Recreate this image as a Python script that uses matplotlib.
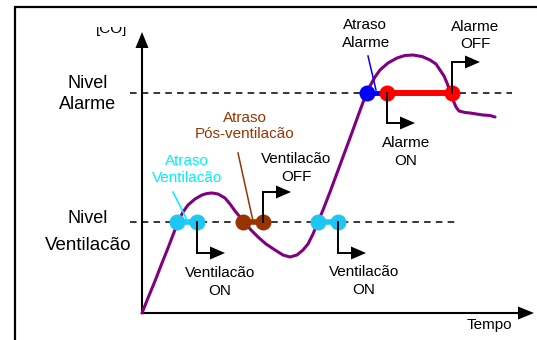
import matplotlib
matplotlib.use('Agg')
import matplotlib.pyplot as plt
from matplotlib.patches import Polygon, Rectangle

# ---------------- data (time, [CO]) in chart units ----------------
curve_t = [0, 6, 13, 20, 26, 31, 36, 41, 46, 53, 60, 65, 70, 76, 83, 88, 93, 98,
           103, 109, 116, 124, 133, 141, 148, 155, 161, 166, 171, 176, 181, 188,
           198, 208, 216, 223, 228, 233, 238, 246, 255, 263, 271, 280, 288, 294,
           298, 302, 305, 308, 311, 314, 317, 323, 328, 341, 348, 353]
curve_co = [0, 15, 32, 50, 65, 78, 91, 101, 108, 114, 118, 119.5, 120, 119, 115,
            109, 102, 96, 90, 83, 76, 69, 63, 58, 56, 58, 63, 69, 79, 91, 103, 121,
            148, 175, 197, 216, 227, 236, 243, 250, 255, 257.5, 258, 256.5, 253,
            249, 243, 237, 230, 222, 213, 206, 202, 200.5, 200, 198, 197.5, 196]

level_alarm = 220
level_vent = 91

vent_delay_start = [35, 176]     # cyan: start of ventilation delay
vent_on = [55, 196]              # cyan: ventilation ON
post_vent_start = 101            # brown: start of post-ventilation delay
vent_off = 121                   # brown: ventilation OFF
alarm_delay_start = 225          # blue
alarm_on = 245                   # red
alarm_off = 310                  # red

# ---------------- figure ----------------
W, H = 537, 340
OX, OY = 142, 313   # pixel position of chart origin
fig = plt.figure(figsize=(W / 100, H / 100), dpi=100)
ax = fig.add_axes([0, 0, 1, 1])
ax.set_xlim(-OX, W - OX)
ax.set_ylim(OY - H, OY)
ax.axis('off')

FONT = 'Liberation Sans'
PURPLE = '#800080'
CYAN_DOT = '#1EC6F4'
CYAN_TXT = '#00EEFF'
BROWN = '#993300'
BLUE = '#0000FF'
RED = '#FF0000'


def X(px):
    return px - OX


def Y(py):
    return OY - py


def txt(px, py, s, size=11, color='black', **kw):
    return ax.text(X(px), Y(py), s, fontsize=size, color=color, family=FONT,
                   ha='center', va='baseline', **kw)


# outer frame (cut off at right/bottom)
ax.plot([X(15), X(15), X(540)], [Y(345), Y(7), Y(7)], color='black', lw=1.6,
        clip_on=False, solid_joinstyle='miter')

# chart axes with arrow heads
ax.plot([0, 0], [0, Y(48)], color='black', lw=1.5)
ax.add_patch(Polygon([[X(135.5), Y(48)], [X(148.5), Y(48)], [X(142), Y(32)]],
                     closed=True, color='black', lw=0))
ax.plot([0, X(518)], [0, 0], color='black', lw=1.5)
ax.add_patch(Polygon([[X(518), Y(306.5)], [X(518), Y(319.5)], [X(534), Y(313)]],
                     closed=True, color='black', lw=0))

# level lines
dash = (0, (4.3, 3.4))
ax.plot([X(130), X(512)], [level_alarm, level_alarm], color='black', lw=1.1,
        linestyle=dash, zorder=1)
ax.plot([X(130), X(458)], [level_vent, level_vent], color='black', lw=1.1,
        linestyle=dash, zorder=1)

# [CO] curve
ax.plot(curve_t, curve_co, color=PURPLE, lw=2.2, zorder=2,
        solid_joinstyle='round', solid_capstyle='round')

# event markers
ms = 11.5
for a, b in zip(vent_delay_start, vent_on):
    ax.plot([a, b], [level_vent, level_vent], color=CYAN_DOT, lw=4, zorder=3)
    ax.plot([a, b], [level_vent, level_vent], 'o', color=CYAN_DOT, ms=ms,
            mew=0, zorder=4)
ax.plot([post_vent_start, vent_off], [level_vent, level_vent], color=BROWN,
        lw=4, zorder=3)
ax.plot([post_vent_start, vent_off], [level_vent, level_vent], 'o', color=BROWN,
        ms=ms, mew=0, zorder=4)
ax.plot([alarm_delay_start, alarm_on], [level_alarm, level_alarm], color=BLUE,
        lw=3.5, zorder=3)
ax.plot([alarm_on, alarm_off], [level_alarm, level_alarm], color=RED, lw=4.3,
        zorder=3)
ax.plot([alarm_delay_start], [level_alarm], 'o', color=BLUE, ms=ms, mew=0,
        zorder=4)
ax.plot([alarm_on, alarm_off], [level_alarm, level_alarm], 'o', color=RED,
        ms=ms, mew=0, zorder=4)

# pointer lines to delay labels
ax.plot([X(173), X(188)], [Y(192), Y(222)], color=CYAN_TXT, lw=1.1, zorder=5)
ax.plot([X(238), X(253)], [Y(153), Y(221)], color=BROWN, lw=1.1, zorder=5)
ax.plot([X(368), X(376)], [Y(56), Y(90)], color=BLUE, lw=1.1, zorder=5)


# step arrows (ON goes down, OFF goes up)
def step(t, level, dy):
    y2 = level + dy
    ax.plot([t, t, t + 14], [level, y2, y2], color='black', lw=1.4, zorder=6,
            solid_joinstyle='miter')
    ax.add_patch(Polygon([[t + 13, y2 - 6.5], [t + 13, y2 + 6.5], [t + 28, y2]],
                         closed=True, color='black', lw=0, zorder=6))


for t in vent_on:
    step(t, level_vent, -31)
step(vent_off, level_vent, 30)
step(alarm_on, level_alarm, -30)
step(alarm_off, level_alarm, 31)

# ---------------- texts ----------------
co = txt(112, 33, '[CO]', size=11)
clip = Rectangle((X(80), Y(40)), 60, 13, transform=ax.transData,
                 facecolor='none', edgecolor='none')
ax.add_patch(clip)
co.set_clip_on(True)
co.set_clip_path(clip)

txt(88, 88, 'Nivel', size=13)
txt(88, 109, 'Alarme', size=13)
txt(88, 223, 'Nivel', size=13)
txt(88, 250, 'Ventilacão', size=13.5)

txt(187, 165, 'Atraso', color=CYAN_TXT)
txt(187, 182, 'Ventilacão', color=CYAN_TXT)

txt(245, 122, 'Atraso', color=BROWN)
txt(245, 138, 'Pós-ventilacão', color=BROWN)

txt(296, 163, 'Ventilacão')
txt(296, 181, 'OFF')

txt(220, 277, 'Ventilacão')
txt(220, 295, 'ON')
txt(364, 276, 'Ventilacão')
txt(364, 294, 'ON')

txt(365, 29, 'Atraso')
txt(366, 47, 'Alarme')
txt(475, 31, 'Alarme')
txt(475, 48, 'OFF')
txt(406, 147, 'Alarme')
txt(406, 165, 'ON')

txt(489, 329, 'Tempo')

fig.savefig('out.png', dpi=100)
